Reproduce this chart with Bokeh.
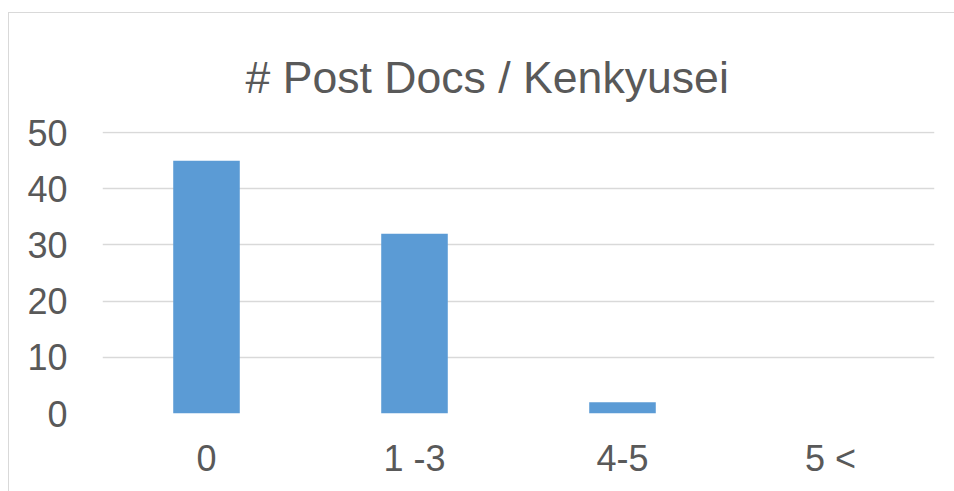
from bokeh.plotting import figure
from bokeh.models import Range1d, FactorRange, FixedTicker, ColumnDataSource
from bokeh.embed import file_html
from bokeh.resources import INLINE

categories = ["0", "1 -3", "4-5", "5 <"]
counts = [45, 32, 2, 0]
y_ticks = [0, 10, 20, 30, 40, 50]
title_text = "# Post Docs / Kenkyusei"

FONT = "Liberation Sans"
TXT = "#595959"

src = ColumnDataSource(dict(cat=categories, val=counts))

p = figure(
    x_range=FactorRange(*categories, range_padding=0),
    y_range=Range1d(0, 50.2),
    width=946, height=479,
    min_border_left=93, min_border_right=21,
    min_border_top=118, min_border_bottom=79,
    output_backend="svg", toolbar_location=None,
    title=title_text,
)
p.margin = (12, 0, 0, 8)
p.styles = {"border-left": "1px solid #d9d9d9", "border-top": "1px solid #d9d9d9"}

p.vbar(x="cat", top="val", width=0.32, source=src, color="#5b9bd5", line_color=None)

p.title.align = "left"
p.title.offset = 143
p.title.text_font = FONT
p.title.text_font_size = "44.6px"
p.title.text_font_style = "normal"
p.title.text_color = TXT
p.title.standoff = 60

p.outline_line_color = None
p.background_fill_color = "white"
p.border_fill_color = "white"

p.xgrid.grid_line_color = None
p.ygrid.grid_line_color = "#d9d9d9"
p.ygrid.grid_line_width = 1.5
p.yaxis.ticker = FixedTicker(ticks=y_ticks)

for ax in (p.xaxis[0], p.yaxis[0]):
    ax.axis_line_color = None
    ax.major_tick_line_color = None
    ax.minor_tick_line_color = None
    ax.major_tick_out = 0
    ax.major_tick_in = 0
    ax.major_label_text_font = FONT
    ax.major_label_text_font_size = "36px"
    ax.major_label_text_color = TXT

p.yaxis.major_label_standoff = 35
p.xaxis.major_label_standoff = 24

open("out.html", "w").write(file_html(p, INLINE))
